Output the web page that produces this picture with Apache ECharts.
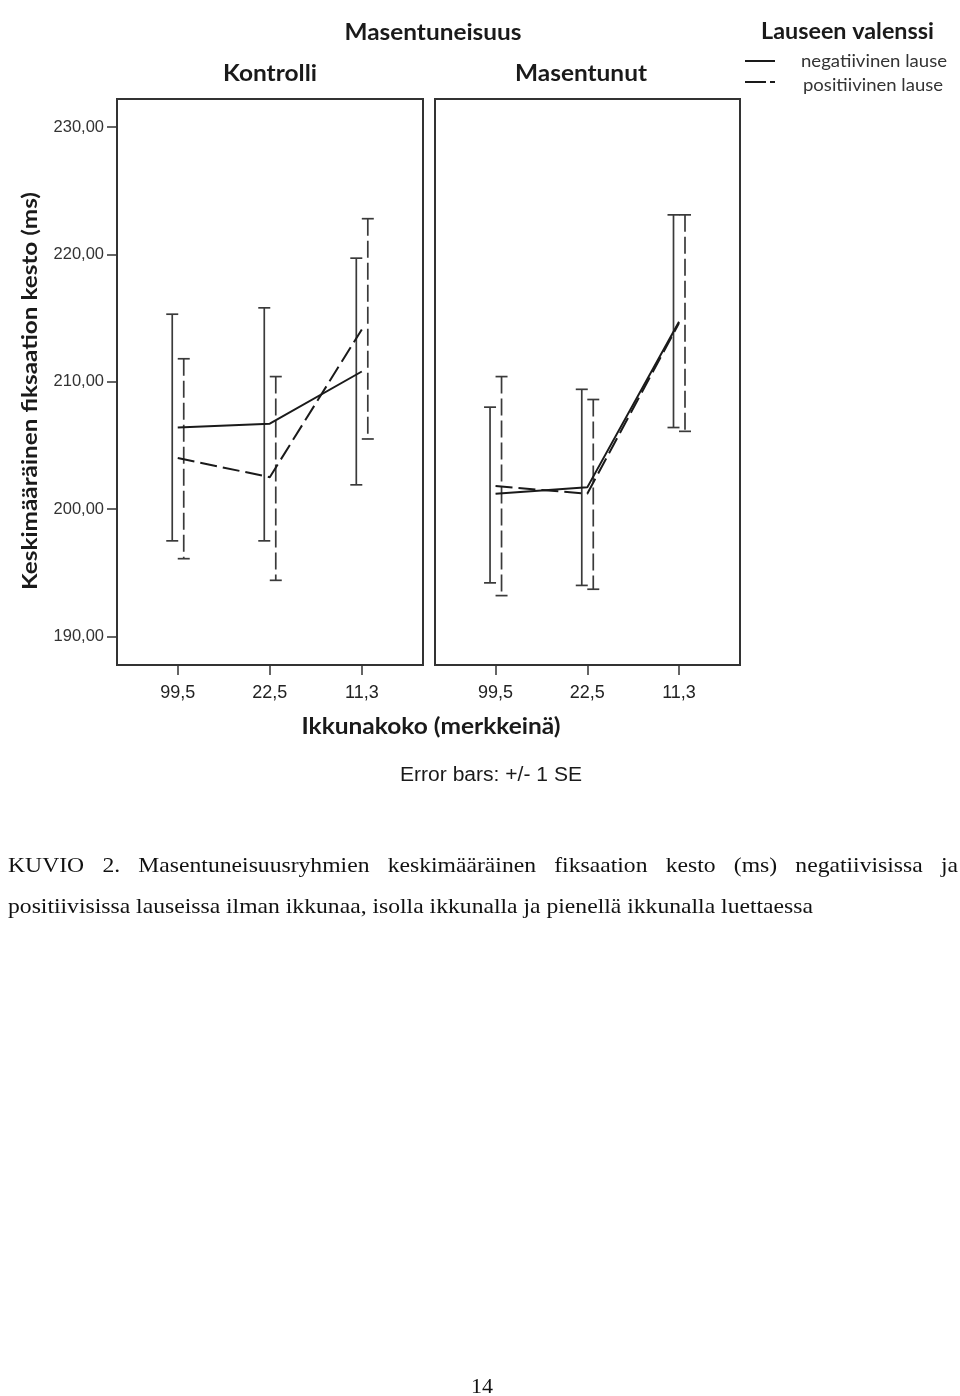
<!DOCTYPE html>
<html><head><meta charset="utf-8">
<script src="https://cdn.jsdelivr.net/npm/echarts@6/dist/echarts.min.js"></script>
<style>html,body{margin:0;padding:0;background:#fff}#c{width:960px;height:1396px}</style>
</head><body><div id="c"></div>
<script>
// ---------------- data ----------------
const categories = ['99,5', '22,5', '11,3'];
const panels = ['Kontrolli', 'Masentunut'];
const seriesNames = ['negatiivinen lause', 'positiivinen lause'];
const yTicks = [190, 200, 210, 220, 230];
// means (ms)
const kontrolliNeg = [206.4, 206.7, 210.8];
const kontrolliPos = [204.0, 202.5, 214.1];
const masentunutNeg = [201.2, 201.7, 214.7];
const masentunutPos = [201.8, 201.2, 214.6];
// error bars (+/- 1 SE): [low, high]
const kontrolliNegSE = [[197.5, 215.3], [197.5, 215.8], [201.9, 219.7]];
const kontrolliPosSE = [[196.1, 211.8], [194.4, 210.4], [205.5, 222.8]];
const masentunutNegSE = [[194.2, 208.0], [194.0, 209.4], [206.4, 223.1]];
const masentunutPosSE = [[193.2, 210.4], [193.7, 208.6], [206.1, 223.1]];
// texts
const superTitle = 'Masentuneisuus';
const legendTitle = 'Lauseen valenssi';
const yTitle = 'Keskimääräinen fiksaation kesto (ms)';
const xTitle = 'Ikkunakoko (merkkeinä)';
const footnote = 'Error bars: +/- 1 SE';
const caption1 = 'KUVIO 2. Masentuneisuusryhmien keskimääräinen fiksaation kesto (ms) negatiivisissa ja';
const caption2 = 'positiivisissa lauseissa ilman ikkunaa, isolla ikkunalla ja pienellä ikkunalla luettaessa';
const pageNo = '14';

// ---------------- helpers ----------------
const mctx = document.createElement('canvas').getContext('2d');
function measure(str, font) { mctx.font = font; return mctx.measureText(str).width; }
function fitText(str, font, cx, cy, targetW, align, extra, fill) {
  const w = measure(str, font);
  const s = targetW / w;
  return Object.assign({
    type: 'text', x: cx, y: cy, scaleX: s, originX: 0, originY: 0,
    style: { text: str, font: font, fill: fill || '#1a1a1a', align: align || 'center', textAlign: align || 'center',
             verticalAlign: 'middle', textVerticalAlign: 'middle' }
  }, extra || {});
}

const DARK = '#1a1a1a', BAR = '#3a3a3a';
const DASH = [17, 6];

function errRender(dx, dashed) {
  return function (params, api) {
    const x = api.value(0), lo = api.value(1), hi = api.value(2);
    const pLo = api.coord([x, lo]), pHi = api.coord([x, hi]);
    const cx = pLo[0] + dx, hw = 6;
    const st = { stroke: BAR, lineWidth: 1.7 };
    return { type: 'group', children: [
      { type: 'line', shape: { x1: cx, y1: pHi[1], x2: cx, y2: pLo[1] },
        style: Object.assign({}, st, { lineDash: dashed ? [17, 5] : null }) },
      { type: 'line', shape: { x1: cx - hw, y1: pHi[1], x2: cx + hw, y2: pHi[1] }, style: st },
      { type: 'line', shape: { x1: cx - hw, y1: pLo[1], x2: cx + hw, y2: pLo[1] }, style: st }
    ] };
  };
}
const toXY = arr => arr.map((v, i) => [i, v]);
const toErr = arr => arr.map((v, i) => [i, v[0], v[1]]);

const gridTop = 99, gridH = 566;
const grids = [
  { left: 117, top: gridTop, width: 306, height: gridH, show: true, borderColor: '#333', borderWidth: 2, backgroundColor: '#fff' },
  { left: 435, top: gridTop, width: 305, height: gridH, show: true, borderColor: '#333', borderWidth: 2, backgroundColor: '#fff' }
];
const xAxes = [0, 1].map(g => ({
  type: 'value', gridIndex: g, min: -0.66, max: 2.665,
  axisLine: { show: false, onZero: false }, splitLine: { show: false },
  axisTick: { show: true, customValues: [0, 1, 2], length: 10, lineStyle: { color: '#333', width: 1.5 } },
  axisLabel: { show: true, customValues: [0, 1, 2], formatter: v => categories[Math.round(v)],
               margin: 19, fontSize: 18, fontFamily: 'Liberation Sans', color: '#222' }
}));
const yAxes = [0, 1].map(g => ({
  type: 'value', gridIndex: g, min: 187.75, max: 232.2,
  axisLine: { show: false, onZero: false }, splitLine: { show: false },
  axisTick: { show: g === 0, customValues: yTicks, length: 10, lineStyle: { color: '#333', width: 1.5 } },
  axisLabel: { show: g === 0, customValues: yTicks, formatter: v => v.toFixed(2).replace('.', ','),
               margin: 13, fontSize: 16.5, fontFamily: 'Liberation Sans', color: '#333' }
}));

const panelData = [
  { neg: kontrolliNeg, pos: kontrolliPos, negSE: kontrolliNegSE, posSE: kontrolliPosSE },
  { neg: masentunutNeg, pos: masentunutPos, negSE: masentunutNegSE, posSE: masentunutPosSE }
];
const series = [];
panelData.forEach((p, g) => {
  series.push({ type: 'custom', name: seriesNames[0], xAxisIndex: g, yAxisIndex: g, z: 2,
    renderItem: errRender(-5.5, false), data: toErr(p.negSE), encode: { x: 0, y: [1, 2] } });
  series.push({ type: 'custom', name: seriesNames[1], xAxisIndex: g, yAxisIndex: g, z: 2,
    renderItem: errRender(6, true), data: toErr(p.posSE), encode: { x: 0, y: [1, 2] } });
  series.push({ type: 'line', name: seriesNames[0], xAxisIndex: g, yAxisIndex: g, z: 3, symbol: 'none',
    lineStyle: { color: DARK, width: 2 }, data: toXY(p.neg) });
  series.push({ type: 'line', name: seriesNames[1], xAxisIndex: g, yAxisIndex: g, z: 3, symbol: 'none',
    lineStyle: { color: DARK, width: 2, type: DASH }, data: toXY(p.pos) });
});

// caption layout (justified first line, condensed serif)
const capFont = '22px "Liberation Serif"';
const capScale = 805 / measure(caption2, capFont);
const words = caption1.split(' ');
const ww = words.map(w => measure(w, capFont) * capScale);
const gap = (950 - ww.reduce((a, b) => a + b, 0)) / (words.length - 1);
const capEls = [];
let cx = 8;
words.forEach((w, i) => {
  capEls.push({ type: 'text', x: cx, y: 866, scaleX: capScale,
    style: { text: w, font: capFont, fill: '#111', align: 'left', textAlign: 'left', verticalAlign: 'middle', textVerticalAlign: 'middle' } });
  cx += ww[i] + gap;
});
capEls.push({ type: 'text', x: 8, y: 907, scaleX: capScale,
  style: { text: caption2, font: capFont, fill: '#111', align: 'left', textAlign: 'left', verticalAlign: 'middle', textVerticalAlign: 'middle' } });
capEls.push({ type: 'text', x: 482, y: 1387,
  style: { text: pageNo, font: '22px "Liberation Serif"', fill: '#111', align: 'center', textAlign: 'center', verticalAlign: 'middle', textVerticalAlign: 'middle' } });

const bold = 'bold 22px Lato';
const graphics = [
  fitText(superTitle, bold, 433, 33, 177),
  fitText(panels[0], bold, 270, 74, 94),
  fitText(panels[1], bold, 581, 74, 132),
  fitText(legendTitle, bold, 761, 32, 173, 'left'),
  fitText(seriesNames[0], '17px Lato', 801, 62, 146, 'left', {}, '#333'),
  fitText(seriesNames[1], '17px Lato', 803, 86, 140, 'left', {}, '#333'),
  { type: 'line', shape: { x1: 745, y1: 61, x2: 775, y2: 61 }, style: { stroke: DARK, lineWidth: 2 } },
  { type: 'line', shape: { x1: 745, y1: 82, x2: 766, y2: 82 }, style: { stroke: DARK, lineWidth: 2 } },
  { type: 'line', shape: { x1: 770, y1: 82, x2: 775, y2: 82 }, style: { stroke: DARK, lineWidth: 2 } },
  fitText(yTitle, 'bold 21px Lato', 30, 391, 398, 'center', { rotation: Math.PI / 2 }),
  fitText(xTitle, bold, 431, 727, 259),
  fitText(footnote, '20px "Liberation Sans"', 491, 775, 182),
].concat(capEls);

const chart = echarts.init(document.getElementById('c'), null, { renderer: 'canvas' });
chart.setOption({
  backgroundColor: '#fff',
  animation: false,
  grid: grids,
  xAxis: xAxes,
  yAxis: yAxes,
  series: series,
  graphic: { elements: graphics }
});
</script>
</body></html>
